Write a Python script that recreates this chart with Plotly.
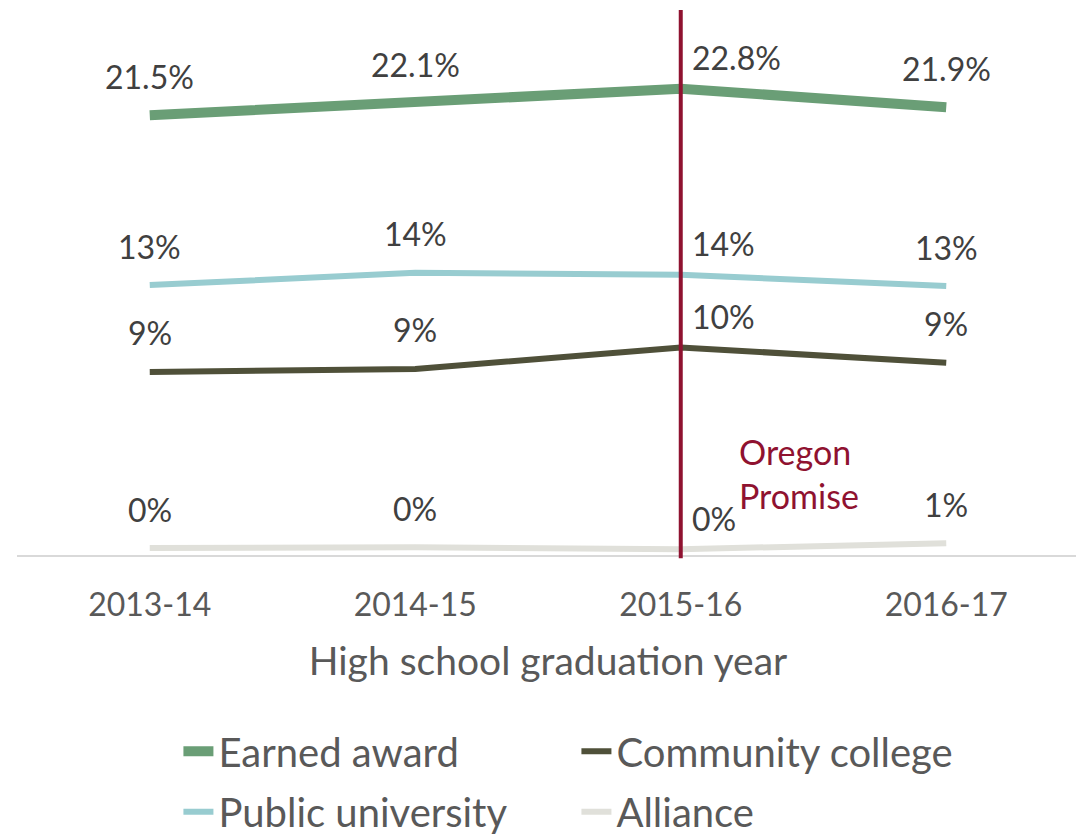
import plotly.graph_objects as go

# data
years = ["2013-14", "2014-15", "2015-16", "2016-17"]
earned_award = [21.5, 22.1, 22.8, 21.9]
community_college = [8.95, 9.1, 10.15, 9.4]
public_university = [13.2, 13.8, 13.7, 13.15]
alliance = [0.34, 0.38, 0.28, 0.58]

earned_labels = ["21.5%", "22.1%", "22.8%", "21.9%"]
community_labels = ["9%", "9%", "10%", "9%"]
public_labels = ["13%", "14%", "14%", "13%"]
alliance_labels = ["0%", "0%", "0%", "1%"]

promise_year = "2015-16"

FONT = "Lato"
LABEL_COLOR = "#404040"

series = [
    ("Earned award", earned_award, earned_labels, "#6A9E76", 10, "legend"),
    ("Community college", community_college, community_labels, "#4F5039", 6, "legend"),
    ("Public university", public_university, public_labels, "#98CCD0", 6, "legend2"),
    ("Alliance", alliance, alliance_labels, "#E0E0DA", 6, "legend2"),
]

# label placement per year: 2015-16 labels sit just right of the red line
label_anchor = ["center", "center", "left", "center"]
label_dx = [0, 0, 9, 0]
label_dy = [39, 39, 31, 39]

fig = go.Figure()
annotations = []
for name, vals, labels, color, width, leg in series:
    fig.add_trace(go.Scatter(x=years, y=vals, name=name, mode="lines", legend=leg,
                             line=dict(color=color, width=width)))
    for i, (yr, v, lab) in enumerate(zip(years, vals, labels)):
        annotations.append(dict(x=yr, y=v, xref="x", yref="y", text=lab, showarrow=False,
                                xanchor=label_anchor[i], xshift=label_dx[i], yshift=label_dy[i],
                                font=dict(family=FONT, size=32, color=LABEL_COLOR)))

annotations.append(dict(x=0.678, y=0.15, xref="paper", yref="paper", xanchor="left", yanchor="middle",
                        align="left", showarrow=False, text="Oregon<br>Promise",
                        font=dict(family=FONT, size=34, color="#8F1230")))

fig.add_shape(type="line", xref="x", yref="paper", x0=promise_year, x1=promise_year,
              y0=-0.006, y1=1, line=dict(color="#8F1230", width=4))

legend_style = dict(orientation="h", x=0.152, xanchor="left", yanchor="middle",
                    entrywidth=353, entrywidthmode="pixels", bgcolor="rgba(0,0,0,0)",
                    font=dict(family=FONT, size=40, color="#595959"), traceorder="normal")

fig.update_layout(
    width=1076, height=832,
    margin=dict(l=9, r=5, t=2, b=285, autoexpand=False),
    paper_bgcolor="white", plot_bgcolor="white",
    font=dict(family=FONT, color="#595959"),
    annotations=annotations,
    showlegend=True,
    legend=dict(legend_style, y=-0.36),
    legend2=dict(legend_style, y=-0.471),
    xaxis=dict(type="category", range=[-0.5, 3.5], showgrid=False, zeroline=False,
               showline=True, linecolor="#D9D9D9", linewidth=2,
               ticks="", ticklabelstandoff=21, automargin=False,
               tickfont=dict(family=FONT, size=32, color="#595959"),
               title=dict(text="High school graduation year", standoff=25,
                          font=dict(family=FONT, size=39, color="#595959"))),
    yaxis=dict(range=[0, 26.65], visible=False, showgrid=False, zeroline=False),
)

fig.write_html("out.html")
